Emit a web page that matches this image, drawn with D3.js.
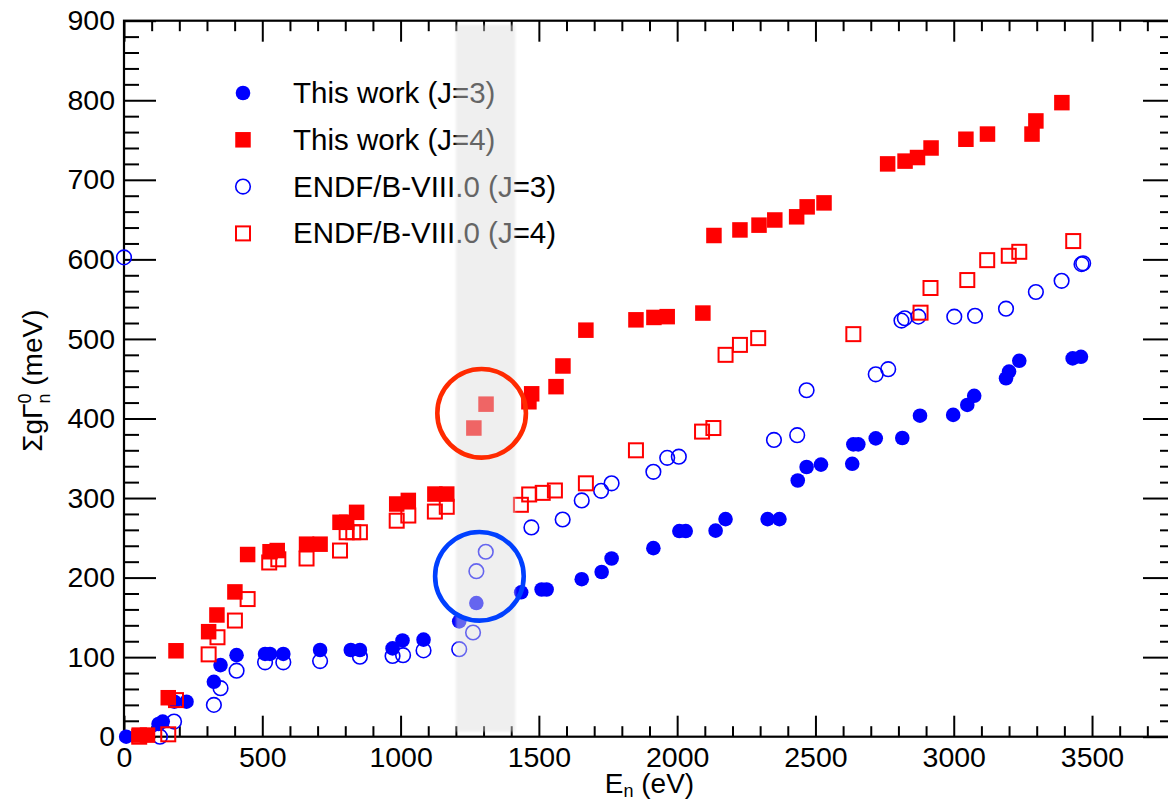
<!DOCTYPE html>
<html>
<head>
<meta charset="utf-8">
<script src="https://cdn.jsdelivr.net/npm/d3@7"></script>
<style>
  body { margin: 0; background: #fff; }
  svg { display: block; }
  text { font-family: "Liberation Sans", Arial, Helvetica, sans-serif; }
</style>
</head>
<body>
<svg id="chart" width="1168" height="802"></svg>
<script>
// series: [E_n (eV), sum g Gamma_n^0 (meV)]
const thisWorkJ3 = [
  [8, 0], [125, 16], [140, 19], [182, 44], [226, 44], [325, 69], [349, 90], [407, 102.5],
  [510, 104], [528, 104], [576, 104], [709, 109], [820, 109], [853, 109], [971, 111],
  [1007, 121], [1083, 122], [1212, 145], [1274, 168], [1436, 181.5], [1510, 185], [1528, 185],
  [1655, 198], [1727, 207], [1763, 224], [1914, 237], [2008, 258.5], [2031, 258.5], [2139, 259],
  [2175, 273.5], [2327, 273.5], [2370, 273.5], [2436, 322], [2468, 339], [2520, 342], [2633, 343],
  [2637, 367.5], [2655, 367.5], [2718, 375], [2814, 375.5], [2878, 403.5], [2998, 404.5],
  [3049, 417], [3074, 428.5], [3189, 450.5], [3200, 459], [3237, 472.5], [3430, 475.5], [3460, 477.5]
]
const thisWorkJ4 = [
  [55, 2], [85, 2], [160, 49], [188, 108], [306, 132], [336, 153], [401, 182], [447, 229],
  [528, 232.5], [554, 234], [660, 242], [709, 242], [781, 269.5], [805, 269.5], [841, 282],
  [986, 292.5], [1028, 297], [1124, 305], [1167, 305], [1265, 388], [1309, 418], [1464, 421],
  [1474, 431], [1562, 440], [1587, 466], [1670, 511], [1851, 524], [1916, 527], [1964, 528],
  [2093, 532.5], [2133, 630], [2227, 637], [2296, 643], [2353, 649.5], [2432, 653.5], [2470, 666],
  [2531, 671], [2761, 720], [2824, 723.5], [2869, 728], [2918, 740], [3044, 751], [3122, 757.5],
  [3283, 757.5], [3297, 774], [3391, 797]
]
const endfJ3 = [
  [0, 602.5], [130, 0], [181, 19], [325, 40], [349, 61], [407, 83], [510, 93.5], [576, 93.5],
  [709, 95], [853, 100.5], [971, 101.5], [1009, 102.5], [1083, 108.5], [1212, 110], [1262, 131],
  [1274, 208], [1308, 232.5], [1473, 263], [1586, 273], [1655, 297], [1725, 309], [1763, 318.5],
  [1914, 333], [1964, 350.5], [2006, 352], [2350, 373], [2434, 379], [2468, 435.5], [2718, 455.5],
  [2763, 462], [2811, 523], [2823, 526], [2872, 528], [3002, 528], [3077, 529], [3189, 538],
  [3297, 559], [3390, 573], [3462, 594], [3468, 595]
]
const endfJ4 = [
  [55, 0], [160, 3], [188, 46], [306, 103.5], [338, 125], [401, 146], [447, 173], [525, 219],
  [558, 223], [660, 224], [781, 234], [805, 257], [829, 257], [853, 257], [986, 271.5],
  [1028, 278], [1124, 283], [1167, 289], [1435, 291.5], [1465, 304.5], [1514, 306.5],
  [1558, 309.5], [1670, 318.5], [1851, 360], [2090, 383.5], [2131, 388], [2175, 480],
  [2227, 492.5], [2293, 501], [2637, 506], [2880, 533], [2916, 564], [3049, 574], [3121, 599],
  [3199, 604.5], [3237, 609.5], [3432, 623]
]
const legendLabels = ['This work (J=3)', 'This work (J=4)', 'ENDF/B-VIII.0 (J=3)', 'ENDF/B-VIII.0 (J=4)']
const xMajorTicks = [0, 500, 1000, 1500, 2000, 2500, 3000, 3500]
const yMajorTicks = [0, 100, 200, 300, 400, 500, 600, 700, 800, 900]
const shadedBand = [1200, 1415] // eV
const highlights = [
  { e: 1293, v: 406.5, color: '#ff2a00' },
  { e: 1285, v: 201.6, color: '#0040ff' }
]

const svg = d3.select('#chart')
const margin = { left: 124, top: 20.7, right: -7, bottom: 65.3 }
const width = 1168, height = 802

const x = d3.scaleLinear().domain([0, 3800]).range([margin.left, width - margin.right])
const y = d3.scaleLinear().domain([0, 900]).range([height - margin.bottom, margin.top])

const xMinor = d3.range(0, 3801, 100).filter(d => d % 500 !== 0)
const yMinor = d3.range(0, 901, 20).filter(d => d % 100 !== 0)

// axes: ticks point inward on all four sides
const fontSize = 28.5
function styleAxis(g) {
  g.select('.domain').remove()
  g.selectAll('line').attr('stroke', '#000').attr('stroke-width', 2)
  g.selectAll('text').attr('fill', '#000').style('font-size', fontSize + 'px')
}
const x0 = y(0), x1 = y(900)
svg.append('g').attr('transform', `translate(0,${x0})`)
  .call(d3.axisBottom(x).tickValues(xMajorTicks).tickSize(-21).tickPadding(10).tickFormat(d3.format('d')))
  .call(styleAxis)
svg.append('g').attr('transform', `translate(0,${x0})`)
  .call(d3.axisBottom(x).tickValues(xMinor).tickSize(-10.5).tickFormat(''))
  .call(styleAxis)
svg.append('g').attr('transform', `translate(0,${x1})`)
  .call(d3.axisTop(x).tickValues(xMajorTicks).tickSize(-21).tickFormat(''))
  .call(styleAxis)
svg.append('g').attr('transform', `translate(0,${x1})`)
  .call(d3.axisTop(x).tickValues(xMinor).tickSize(-10.5).tickFormat(''))
  .call(styleAxis)
svg.append('g').attr('transform', `translate(${x(0)},0)`)
  .call(d3.axisLeft(y).tickValues(yMajorTicks).tickSize(-32).tickPadding(9).tickFormat(d3.format('d')))
  .call(styleAxis)
svg.append('g').attr('transform', `translate(${x(0)},0)`)
  .call(d3.axisLeft(y).tickValues(yMinor).tickSize(-15).tickFormat(''))
  .call(styleAxis)
svg.append('g').attr('transform', `translate(${x(3800)},0)`)
  .call(d3.axisRight(y).tickValues(yMajorTicks).tickSize(-32).tickFormat(''))
  .call(styleAxis)
svg.append('g').attr('transform', `translate(${x(3800)},0)`)
  .call(d3.axisRight(y).tickValues(yMinor).tickSize(-15).tickFormat(''))
  .call(styleAxis)

// frame
svg.append('rect')
  .attr('x', x(0)).attr('y', y(900))
  .attr('width', x(3800) - x(0)).attr('height', y(0) - y(900))
  .attr('fill', 'none').attr('stroke', '#000').attr('stroke-width', 2.2)

// axis titles
const xt = svg.append('text')
  .attr('x', (x(0) + x(3800)) / 2).attr('y', 793)
  .attr('text-anchor', 'middle').style('font-size', '28px')
xt.append('tspan').text('E')
xt.append('tspan').attr('dy', 4).style('font-size', '18px').text('n')
xt.append('tspan').attr('dy', -4).text(' (eV)')

const yt = svg.append('text')
  .attr('transform', `translate(42,${(y(0) + y(900)) / 2 + 2}) rotate(-90)`)
  .attr('text-anchor', 'middle').style('font-size', '28px')
yt.append('tspan').text('ΣgΓ')
yt.append('tspan').attr('dy', -11).style('font-size', '18px').text('0')
yt.append('tspan').attr('dx', -10).attr('dy', 19).style('font-size', '18px').text('n')
yt.append('tspan').attr('dy', -8).text(' (meV)')

// markers
const r = 7.3, s = 15.5, so = 14
const plot = svg.append('g')
plot.selectAll('.endf3').data(endfJ3).enter().append('circle')
  .attr('class', 'endf3')
  .attr('cx', d => x(d[0])).attr('cy', d => y(d[1])).attr('r', r)
  .attr('fill', 'none').attr('stroke', '#0000ff').attr('stroke-width', 1.6)
plot.selectAll('.this3').data(thisWorkJ3).enter().append('circle')
  .attr('class', 'this3')
  .attr('cx', d => x(d[0])).attr('cy', d => y(d[1])).attr('r', r)
  .attr('fill', '#0000ff')
plot.selectAll('.this4').data(thisWorkJ4).enter().append('rect')
  .attr('class', 'this4')
  .attr('x', d => x(d[0]) - s / 2).attr('y', d => y(d[1]) - s / 2)
  .attr('width', s).attr('height', s)
  .attr('fill', '#ff0000')
plot.selectAll('.endf4').data(endfJ4).enter().append('rect')
  .attr('class', 'endf4')
  .attr('x', d => x(d[0]) - so / 2).attr('y', d => y(d[1]) - so / 2)
  .attr('width', so).attr('height', so)
  .attr('fill', 'none').attr('stroke', '#ff0000').attr('stroke-width', 2)

// legend
const legend = svg.append('g')
const legendMarkers = [
  g => g.append('circle').attr('r', r).attr('fill', '#0000ff'),
  g => g.append('rect').attr('x', -s / 2).attr('y', -s / 2).attr('width', s).attr('height', s).attr('fill', '#ff0000'),
  g => g.append('circle').attr('r', r).attr('fill', 'none').attr('stroke', '#0000ff').attr('stroke-width', 1.6),
  g => g.append('rect').attr('x', -so / 2).attr('y', -so / 2).attr('width', so).attr('height', so)
    .attr('fill', 'none').attr('stroke', '#ff0000').attr('stroke-width', 2)
]
legendLabels.forEach((label, i) => {
  const row = legend.append('g').attr('transform', `translate(243,${93 + i * 46.8})`)
  legendMarkers[i](row)
  row.append('text').attr('x', 50).attr('y', 10).style('font-size', '29.5px').attr('fill', '#000').text(label)
})

// shaded band drawn over markers and legend
const defs = svg.append('defs')
defs.append('filter').attr('id', 'soft')
  .attr('x', '-10%').attr('width', '120%')
  .append('feGaussianBlur').attr('stdDeviation', 1.2)
svg.append('rect')
  .attr('x', x(shadedBand[0])).attr('y', 25)
  .attr('width', x(shadedBand[1]) - x(shadedBand[0])).attr('height', y(0) - 5 - 25)
  .attr('fill', 'rgb(220,220,220)').attr('fill-opacity', 0.46)
  .attr('filter', 'url(#soft)')

// highlight rings
svg.selectAll('.ring').data(highlights).enter().append('circle')
  .attr('class', 'ring')
  .attr('cx', d => x(d.e)).attr('cy', d => y(d.v)).attr('r', 44.3)
  .attr('fill', 'none').attr('stroke', d => d.color).attr('stroke-width', 4.6)
</script>
</body>
</html>
